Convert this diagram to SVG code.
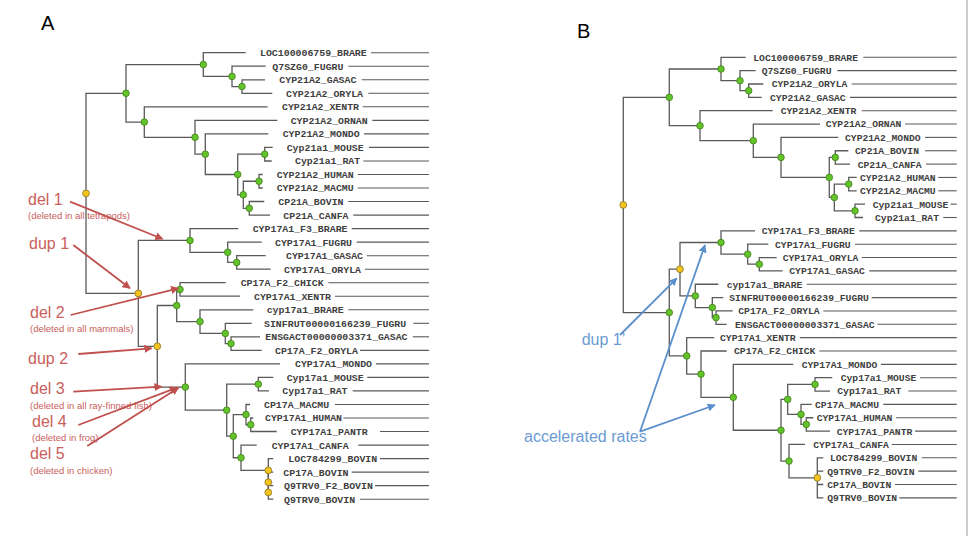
<svg xmlns="http://www.w3.org/2000/svg" width="971" height="536" viewBox="0 0 971 536">
<defs>
<style>
.br{fill:none;stroke:#5a5a5a;stroke-width:1.3}
.tl{stroke:#5a5a5a;stroke-width:1.1}
.la{font-family:"Liberation Mono","Courier New",monospace;font-size:9.9px;font-weight:bold;fill:#404040}
.lb{font-family:"Liberation Mono","Courier New",monospace;font-size:9.7px;font-weight:bold;fill:#404040}
.g{fill:#63c32a;stroke:#3e7d16;stroke-width:0.8}
.y{fill:#f3c31e;stroke:#8c7420;stroke-width:0.8}
.big{font-family:"Liberation Sans",Arial,sans-serif;font-size:20px;fill:#000}
.rt{font-family:"Liberation Sans",Arial,sans-serif;fill:#c9605c}
.bt{font-family:"Liberation Sans",Arial,sans-serif;fill:#6b9bd2}
.ra{stroke:#c0504d;stroke-width:1.8;fill:none;marker-end:url(#ar)}
.ba{stroke:#5b8fcc;stroke-width:1.8;fill:none;marker-end:url(#ab)}
</style>
<marker id="ar" viewBox="0 0 10 10" refX="9" refY="5" markerWidth="4.5" markerHeight="4.5" orient="auto"><path d="M0 0L10 5L0 10z" fill="#c0504d"/></marker>
<marker id="ab" viewBox="0 0 10 10" refX="9" refY="5" markerWidth="4.5" markerHeight="4.5" orient="auto"><path d="M0 0L10 5L0 10z" fill="#5b8fcc"/></marker>
</defs>
<rect width="971" height="536" fill="#fff"/>
<line x1="967" y1="0" x2="967" y2="536" stroke="#9a9a9a" stroke-width="1"/>
<text class="big" x="41" y="30">A</text>
<text class="big" x="577" y="38">B</text>

<g id="connectors-A">
<path class="br" d="M265 79.8H242V93.3H272.3"/>
<path class="br" d="M265.7 66.2H232V86.55H242"/>
<path class="br" d="M245.7 52.7H203.3V76.4H232"/>
<path class="br" d="M272.7 147.4H264.7V161H271.7"/>
<path class="br" d="M262.7 174.5H259V188H262.7"/>
<path class="br" d="M264.3 201.5H249.3V215.1H270"/>
<path class="br" d="M259 181.25H243.3V208.3H249.3"/>
<path class="br" d="M264.7 154.2H237.7V194.8H243.3"/>
<path class="br" d="M268.3 133.9H205.3V174.5H237.7"/>
<path class="br" d="M277.3 120.4H195V154.2H205.3"/>
<path class="br" d="M267.7 106.8H144.3V137.3H195"/>
<path class="br" d="M203.3 64.55H126V122.05H144.3"/>
<path class="br" d="M265.7 255.7H236.7V269.2H270.7"/>
<path class="br" d="M261.7 242.1H227.7V262.45H236.7"/>
<path class="br" d="M238.3 228.6H190V252.3H227.7"/>
<path class="br" d="M225.7 282.7H180V296.2H240"/>
<path class="br" d="M260 336.8H231V350.4H261.7"/>
<path class="br" d="M251.7 323.3H225.3V343.6H231"/>
<path class="br" d="M253.3 309.8H200V333.45H225.3"/>
<path class="br" d="M180 289.45H176.7V321.6H200"/>
<path class="br" d="M273.3 377.4H258.3V390.9H269"/>
<path class="br" d="M253.3 418H250.7V431.5H276.7"/>
<path class="br" d="M250 404.5H246V424.75H250.7"/>
<path class="br" d="M273.3 485.6H268.3V499.2H273.3"/>
<path class="br" d="M273.3 472.1H268.3V492.4"/>
<path class="br" d="M273.3 458.6H268.3V482.25"/>
<path class="br" d="M256.7 445.1H241V470.4H268.3"/>
<path class="br" d="M246 414.6H233.3V457.75H241"/>
<path class="br" d="M258.3 384.15H226.7V436.2H233.3"/>
<path class="br" d="M280 363.9H185.3V410.2H226.7"/>
<path class="br" d="M176.7 305.5H157.3V387.05H185.3"/>
<path class="br" d="M190 240.45H138.3V346.3H157.3"/>
<path class="br" d="M126 93.3H86V293.4H138.3"/>
</g>

<g id="connectors-B">
<path class="br" d="M763.3 84H748.7V97.35H761.7"/>
<path class="br" d="M755.7 70.65H740V90.7H748.7"/>
<path class="br" d="M745.7 57.3H721V80.7H740"/>
<path class="br" d="M848.3 150.75H835.3V164.1H850"/>
<path class="br" d="M856.7 177.45H848.7V190.8H856.7"/>
<path class="br" d="M865 204.15H855V217.5H863"/>
<path class="br" d="M848.7 184.1H834.3V210.8H855"/>
<path class="br" d="M835.3 157.4H829.3V197.45H834.3"/>
<path class="br" d="M838.3 137.4H781V177.4H829.3"/>
<path class="br" d="M820 124.05H753.3V157.4H781"/>
<path class="br" d="M772.7 110.7H700V140.7H753.3"/>
<path class="br" d="M721 69H669.3V125.7H700"/>
<path class="br" d="M776.7 257.55H759.3V270.9H782.7"/>
<path class="br" d="M768.3 244.2H747.7V264.2H759.3"/>
<path class="br" d="M755 230.85H721V254.2H747.7"/>
<path class="br" d="M732.7 310.95H716V324.3H726.7"/>
<path class="br" d="M723.3 297.6H712.3V317.6H716"/>
<path class="br" d="M718.3 284.25H695.3V307.6H712.3"/>
<path class="br" d="M721 242.5H680V295.9H695.3"/>
<path class="br" d="M832.3 377.7H815V391.05H830"/>
<path class="br" d="M813.3 417.75H806.3V431.1H830"/>
<path class="br" d="M811.7 404.4H801V424.4H806.3"/>
<path class="br" d="M815 384.4H787.7V414.4H801"/>
<path class="br" d="M823.3 457.8H817.3V497.85H823.3M817.3 471.15H823.3M817.3 484.5H823.3"/>
<path class="br" d="M805 444.45H789V477.8H817.3"/>
<path class="br" d="M787.7 399.4H781V461.1H789"/>
<path class="br" d="M793.3 364.35H733.3V430.25H781"/>
<path class="br" d="M726.7 351H701V397.3H733.3"/>
<path class="br" d="M714.3 337.65H686.7V374.15H701"/>
<path class="br" d="M680 269.2H669.3V355.9H686.7"/>
<path class="br" d="M669.3 97.35H623.3V312.55H669.3"/>
</g>

<g id="nodes-A">
<circle id="a-root" class="y" cx="86" cy="193.35" r="3.4"/>
<circle id="a-n126" class="g" cx="126" cy="93.3" r="3.3"/>
<circle id="a-n203" class="g" cx="203.3" cy="64.55" r="3.3"/>
<circle id="a-n232" class="g" cx="232" cy="76.4" r="3.3"/>
<circle id="a-n242" class="g" cx="242" cy="86.55" r="3.3"/>
<circle id="a-n144" class="g" cx="144.3" cy="122.05" r="3.3"/>
<circle id="a-n195" class="g" cx="195" cy="137.3" r="3.3"/>
<circle id="a-n205" class="g" cx="205.3" cy="154.2" r="3.3"/>
<circle id="a-n237" class="g" cx="237.7" cy="174.5" r="3.3"/>
<circle id="a-n264" class="g" cx="264.7" cy="154.2" r="3.3"/>
<circle id="a-n243" class="g" cx="243.3" cy="194.8" r="3.3"/>
<circle id="a-n259" class="g" cx="259" cy="181.25" r="3.3"/>
<circle id="a-n249" class="g" cx="249.3" cy="208.3" r="3.3"/>
<circle id="a-dup1" class="y" cx="138.3" cy="293.4" r="3.4"/>
<circle id="a-n190" class="g" cx="190" cy="240.45" r="3.3"/>
<circle id="a-n227" class="g" cx="227.7" cy="252.3" r="3.3"/>
<circle id="a-n236" class="g" cx="236.7" cy="262.45" r="3.3"/>
<circle id="a-dup2" class="y" cx="157.3" cy="346.3" r="3.4"/>
<circle id="a-n176" class="g" cx="176.7" cy="305.5" r="3.3"/>
<circle id="a-n180" class="g" cx="180" cy="289.45" r="3.3"/>
<circle id="a-n200" class="g" cx="200" cy="321.6" r="3.3"/>
<circle id="a-n225" class="g" cx="225.3" cy="333.45" r="3.3"/>
<circle id="a-n231" class="g" cx="231" cy="343.6" r="3.3"/>
<circle id="a-n185" class="g" cx="185.3" cy="387.05" r="3.3"/>
<circle id="a-n226" class="g" cx="226.7" cy="410.2" r="3.3"/>
<circle id="a-n258" class="g" cx="258.3" cy="384.15" r="3.3"/>
<circle id="a-n233" class="g" cx="233.3" cy="436.2" r="3.3"/>
<circle id="a-n246" class="g" cx="246" cy="414.6" r="3.3"/>
<circle id="a-n250" class="g" cx="250.7" cy="424.75" r="3.3"/>
<circle id="a-n241" class="g" cx="241" cy="457.75" r="3.3"/>
<circle id="a-bovA" class="y" cx="268.3" cy="470.4" r="3.4"/>
<circle id="a-bovB" class="y" cx="268.3" cy="482.25" r="3.4"/>
<circle id="a-bovC" class="y" cx="268.3" cy="492.4" r="3.4"/>
</g>

<g id="nodes-B">
<circle id="b-root" class="y" cx="623.3" cy="204.95" r="3.4"/>
<circle id="b-n669" class="g" cx="669.3" cy="97.35" r="3.3"/>
<circle id="b-n721" class="g" cx="721" cy="69" r="3.3"/>
<circle id="b-n740" class="g" cx="740" cy="80.7" r="3.3"/>
<circle id="b-n748" class="g" cx="748.7" cy="90.7" r="3.3"/>
<circle id="b-n700" class="g" cx="700" cy="125.7" r="3.3"/>
<circle id="b-n753" class="g" cx="753.3" cy="140.7" r="3.3"/>
<circle id="b-n781" class="g" cx="781" cy="157.4" r="3.3"/>
<circle id="b-n829" class="g" cx="829.3" cy="177.4" r="3.3"/>
<circle id="b-n835" class="g" cx="835.3" cy="157.4" r="3.3"/>
<circle id="b-n834" class="g" cx="834.3" cy="197.45" r="3.3"/>
<circle id="b-n848" class="g" cx="848.7" cy="184.1" r="3.3"/>
<circle id="b-n855" class="g" cx="855" cy="210.8" r="3.3"/>
<circle id="b-n669b" class="g" cx="669.3" cy="312.55" r="3.3"/>
<circle id="b-dup1p" class="y" cx="680" cy="269.2" r="3.4"/>
<circle id="b-n721b" class="g" cx="721" cy="242.5" r="3.3"/>
<circle id="b-n747" class="g" cx="747.7" cy="254.2" r="3.3"/>
<circle id="b-n759" class="g" cx="759.3" cy="264.2" r="3.3"/>
<circle id="b-n695" class="g" cx="695.3" cy="295.9" r="3.3"/>
<circle id="b-n712" class="g" cx="712.3" cy="307.6" r="3.3"/>
<circle id="b-n716" class="g" cx="716" cy="317.6" r="3.3"/>
<circle id="b-n686" class="g" cx="686.7" cy="355.9" r="3.3"/>
<circle id="b-n701" class="g" cx="701" cy="374.15" r="3.3"/>
<circle id="b-n733" class="g" cx="733.3" cy="397.3" r="3.3"/>
<circle id="b-n781b" class="g" cx="781" cy="430.25" r="3.3"/>
<circle id="b-n787" class="g" cx="787.7" cy="399.4" r="3.3"/>
<circle id="b-n815" class="g" cx="815" cy="384.4" r="3.3"/>
<circle id="b-n801" class="g" cx="801" cy="414.4" r="3.3"/>
<circle id="b-n806" class="g" cx="806.3" cy="424.4" r="3.3"/>
<circle id="b-n789" class="g" cx="789" cy="461.1" r="3.3"/>
<circle id="b-bov" class="y" cx="817.3" cy="477.8" r="3.4"/>
</g>

<g id="leaves-A">
<g id="a1"><text class="la" x="260" y="56.1">LOC100006759_BRARE</text><line class="tl" x1="371" y1="52.7" x2="429" y2="52.7"/></g>
<g id="a2"><text class="la" x="272.3" y="69.6">Q7SZG0_FUGRU</text><line class="tl" x1="348.3" y1="66.2" x2="429" y2="66.2"/></g>
<g id="a3"><text class="la" x="279.3" y="83.2">CYP21A2_GASAC</text><line class="tl" x1="361.7" y1="79.8" x2="429" y2="79.8"/></g>
<g id="a4"><text class="la" x="286" y="96.7">CYP21A2_ORYLA</text><line class="tl" x1="368.3" y1="93.3" x2="429" y2="93.3"/></g>
<g id="a5"><text class="la" x="282" y="110.2">CYP21A2_XENTR</text><line class="tl" x1="362.7" y1="106.8" x2="429" y2="106.8"/></g>
<g id="a6"><text class="la" x="290.7" y="123.8">CYP21A2_ORNAN</text><line class="tl" x1="372.3" y1="120.4" x2="429" y2="120.4"/></g>
<g id="a7"><text class="la" x="282.7" y="137.3">CYP21A2_MONDO</text><line class="tl" x1="364" y1="133.9" x2="429" y2="133.9"/></g>
<g id="a8"><text class="la" x="286.7" y="150.8">Cyp21a1_MOUSE</text><line class="tl" x1="369" y1="147.4" x2="429" y2="147.4"/></g>
<g id="a9"><text class="la" x="295" y="164.4">Cyp21a1_RAT</text><line class="tl" x1="363.3" y1="161" x2="429" y2="161"/></g>
<g id="a10"><text class="la" x="276.7" y="177.9">CYP21A2_HUMAN</text><line class="tl" x1="357.7" y1="174.5" x2="429" y2="174.5"/></g>
<g id="a11"><text class="la" x="276.7" y="191.4">CYP21A2_MACMU</text><line class="tl" x1="357.7" y1="188" x2="429" y2="188"/></g>
<g id="a12"><text class="la" x="278.3" y="204.9">CP21A_BOVIN</text><line class="tl" x1="348.3" y1="201.5" x2="429" y2="201.5"/></g>
<g id="a13"><text class="la" x="283.3" y="218.5">CP21A_CANFA</text><line class="tl" x1="353.3" y1="215.1" x2="429" y2="215.1"/></g>
<g id="a14"><text class="la" x="252.7" y="232">CYP17A1_F3_BRARE</text><line class="tl" x1="351.7" y1="228.6" x2="429" y2="228.6"/></g>
<g id="a15"><text class="la" x="275" y="245.5">CYP17A1_FUGRU</text><line class="tl" x1="356.7" y1="242.1" x2="429" y2="242.1"/></g>
<g id="a16"><text class="la" x="286" y="259.1">CYP17A1_GASAC</text><line class="tl" x1="366.7" y1="255.7" x2="429" y2="255.7"/></g>
<g id="a17"><text class="la" x="284" y="272.6">CYP17A1_ORYLA</text><line class="tl" x1="365" y1="269.2" x2="429" y2="269.2"/></g>
<g id="a18"><text class="la" x="240.7" y="286.1">CP17A_F2_CHICK</text><line class="tl" x1="328.3" y1="282.7" x2="429" y2="282.7"/></g>
<g id="a19"><text class="la" x="254" y="299.6">CYP17A1_XENTR</text><line class="tl" x1="335" y1="296.2" x2="429" y2="296.2"/></g>
<g id="a20"><text class="la" x="266.7" y="313.2">cyp17a1_BRARE</text><line class="tl" x1="348.3" y1="309.8" x2="429" y2="309.8"/></g>
<g id="a21"><text class="la" x="264" y="326.7">SINFRUT00000166239_FUGRU</text><line class="tl" x1="413.3" y1="323.3" x2="429" y2="323.3"/></g>
<g id="a22"><text class="la" x="265.3" y="340.2">ENSGACT00000003371_GASAC</text><line class="tl" x1="412.7" y1="336.8" x2="429" y2="336.8"/></g>
<g id="a23"><text class="la" x="275" y="353.8">CP17A_F2_ORYLA</text><line class="tl" x1="360" y1="350.4" x2="429" y2="350.4"/></g>
<g id="a24"><text class="la" x="295" y="367.3">CYP17A1_MONDO</text><line class="tl" x1="376" y1="363.9" x2="429" y2="363.9"/></g>
<g id="a25"><text class="la" x="286.7" y="380.8">Cyp17a1_MOUSE</text><line class="tl" x1="367.3" y1="377.4" x2="429" y2="377.4"/></g>
<g id="a26"><text class="la" x="282.3" y="394.3">Cyp17a1_RAT</text><line class="tl" x1="352.7" y1="390.9" x2="429" y2="390.9"/></g>
<g id="a27"><text class="la" x="264" y="407.9">CP17A_MACMU</text><line class="tl" x1="335" y1="404.5" x2="429" y2="404.5"/></g>
<g id="a28"><text class="la" x="265" y="421.4">CYP17A1_HUMAN</text><line class="tl" x1="343.3" y1="418" x2="429" y2="418"/></g>
<g id="a29"><text class="la" x="290.7" y="434.9">CYP17A1_PANTR</text><line class="tl" x1="380" y1="431.5" x2="429" y2="431.5"/></g>
<g id="a30"><text class="la" x="271.7" y="448.5">CYP17A1_CANFA</text><line class="tl" x1="358.3" y1="445.1" x2="429" y2="445.1"/></g>
<g id="a31"><text class="la" x="288.3" y="462">LOC784299_BOVIN</text><line class="tl" x1="380" y1="458.6" x2="429" y2="458.6"/></g>
<g id="a32"><text class="la" x="283.3" y="475.5">CP17A_BOVIN</text><line class="tl" x1="351.7" y1="472.1" x2="429" y2="472.1"/></g>
<g id="a33"><text class="la" x="284" y="489">Q9TRV0_F2_BOVIN</text><line class="tl" x1="375" y1="485.6" x2="429" y2="485.6"/></g>
<g id="a34"><text class="la" x="284" y="502.6">Q9TRV0_BOVIN</text><line class="tl" x1="360" y1="499.2" x2="429" y2="499.2"/></g>
</g>

<g id="leaves-B">
<g id="b1"><text class="lb" x="753.3" y="60.7">LOC100006759_BRARE</text><line class="tl" x1="863.3" y1="57.3" x2="956.7" y2="57.3"/></g>
<g id="b2"><text class="lb" x="761.7" y="74.05">Q7SZG0_FUGRU</text><line class="tl" x1="837.3" y1="70.65" x2="956.7" y2="70.65"/></g>
<g id="b3"><text class="lb" x="771.7" y="87.4">CYP21A2_ORYLA</text><line class="tl" x1="851.7" y1="84" x2="956.7" y2="84"/></g>
<g id="b4"><text class="lb" x="770" y="100.75">CYP21A2_GASAC</text><line class="tl" x1="850" y1="97.35" x2="956.7" y2="97.35"/></g>
<g id="b5"><text class="lb" x="780.7" y="114.1">CYP21A2_XENTR</text><line class="tl" x1="861.7" y1="110.7" x2="956.7" y2="110.7"/></g>
<g id="b6"><text class="lb" x="825.7" y="127.45">CYP21A2_ORNAN</text><line class="tl" x1="905" y1="124.05" x2="956.7" y2="124.05"/></g>
<g id="b7"><text class="lb" x="845" y="140.8">CYP21A2_MONDO</text><line class="tl" x1="925" y1="137.4" x2="956.7" y2="137.4"/></g>
<g id="b8"><text class="lb" x="855" y="154.15">CP21A_BOVIN</text><line class="tl" x1="925" y1="150.75" x2="956.7" y2="150.75"/></g>
<g id="b9"><text class="lb" x="857.7" y="167.5">CP21A_CANFA</text><line class="tl" x1="926" y1="164.1" x2="956.7" y2="164.1"/></g>
<g id="b10"><text class="lb" x="860" y="180.85">CYP21A2_HUMAN</text><line class="tl" x1="938.3" y1="177.45" x2="956.7" y2="177.45"/></g>
<g id="b11"><text class="lb" x="860" y="194.2">CYP21A2_MACMU</text><line class="tl" x1="938.3" y1="190.8" x2="956.7" y2="190.8"/></g>
<g id="b12"><text class="lb" x="872.7" y="207.55">Cyp21a1_MOUSE</text><line class="tl" x1="950.7" y1="204.15" x2="956.7" y2="204.15"/></g>
<g id="b13"><text class="lb" x="875" y="220.9">Cyp21a1_RAT</text><line class="tl" x1="943.3" y1="217.5" x2="956.7" y2="217.5"/></g>
<g id="b14"><text class="lb" x="761.7" y="234.25">CYP17A1_F3_BRARE</text><line class="tl" x1="859.3" y1="230.85" x2="956.7" y2="230.85"/></g>
<g id="b15"><text class="lb" x="775" y="247.6">CYP17A1_FUGRU</text><line class="tl" x1="855" y1="244.2" x2="956.7" y2="244.2"/></g>
<g id="b16"><text class="lb" x="782.7" y="260.95">CYP17A1_ORYLA</text><line class="tl" x1="861.7" y1="257.55" x2="956.7" y2="257.55"/></g>
<g id="b17"><text class="lb" x="789.3" y="274.3">CYP17A1_GASAC</text><line class="tl" x1="869.3" y1="270.9" x2="956.7" y2="270.9"/></g>
<g id="b18"><text class="lb" x="726.7" y="287.65">cyp17a1_BRARE</text><line class="tl" x1="806.7" y1="284.25" x2="956.7" y2="284.25"/></g>
<g id="b19"><text class="lb" x="729.3" y="301">SINFRUT00000166239_FUGRU</text><line class="tl" x1="871.7" y1="297.6" x2="956.7" y2="297.6"/></g>
<g id="b20"><text class="lb" x="738.3" y="314.35">CP17A_F2_ORYLA</text><line class="tl" x1="823.3" y1="310.95" x2="956.7" y2="310.95"/></g>
<g id="b21"><text class="lb" x="735" y="327.7">ENSGACT00000003371_GASAC</text><line class="tl" x1="877.3" y1="324.3" x2="956.7" y2="324.3"/></g>
<g id="b22"><text class="lb" x="720" y="341.05">CYP17A1_XENTR</text><line class="tl" x1="800" y1="337.65" x2="956.7" y2="337.65"/></g>
<g id="b23"><text class="lb" x="734" y="354.4">CP17A_F2_CHICK</text><line class="tl" x1="819.3" y1="351" x2="956.7" y2="351"/></g>
<g id="b24"><text class="lb" x="801.7" y="367.75">CYP17A1_MONDO</text><line class="tl" x1="881" y1="364.35" x2="956.7" y2="364.35"/></g>
<g id="b25"><text class="lb" x="840.7" y="381.1">Cyp17a1_MOUSE</text><line class="tl" x1="920" y1="377.7" x2="956.7" y2="377.7"/></g>
<g id="b26"><text class="lb" x="837.3" y="394.45">Cyp17a1_RAT</text><line class="tl" x1="908.3" y1="391.05" x2="956.7" y2="391.05"/></g>
<g id="b27"><text class="lb" x="815" y="407.8">CP17A_MACMU</text><line class="tl" x1="883.3" y1="404.4" x2="956.7" y2="404.4"/></g>
<g id="b28"><text class="lb" x="816.7" y="421.15">CYP17A1_HUMAN</text><line class="tl" x1="896" y1="417.75" x2="956.7" y2="417.75"/></g>
<g id="b29"><text class="lb" x="836.7" y="434.5">CYP17A1_PANTR</text><line class="tl" x1="915" y1="431.1" x2="956.7" y2="431.1"/></g>
<g id="b30"><text class="lb" x="813.3" y="447.85">CYP17A1_CANFA</text><line class="tl" x1="891.7" y1="444.45" x2="956.7" y2="444.45"/></g>
<g id="b31"><text class="lb" x="830" y="461.2">LOC784299_BOVIN</text><line class="tl" x1="921.7" y1="457.8" x2="956.7" y2="457.8"/></g>
<g id="b32"><text class="lb" x="827.3" y="474.55">Q9TRV0_F2_BOVIN</text><line class="tl" x1="918.3" y1="471.15" x2="956.7" y2="471.15"/></g>
<g id="b33"><text class="lb" x="827.3" y="487.9">CP17A_BOVIN</text><line class="tl" x1="895" y1="484.5" x2="956.7" y2="484.5"/></g>
<g id="b34"><text class="lb" x="827.3" y="501.25">Q9TRV0_BOVIN</text><line class="tl" x1="899.3" y1="497.85" x2="956.7" y2="497.85"/></g>
</g>

<g id="annotations-A">
<text class="rt" x="28" y="205" font-size="16">del 1</text>
<text class="rt" x="28" y="218.5" font-size="9.5">(deleted in all tetrapods)</text>
<text class="rt" x="29" y="248.5" font-size="16">dup 1</text>
<text class="rt" x="30" y="317.5" font-size="16">del 2</text>
<text class="rt" x="30" y="331.5" font-size="9.5">(deleted in all mammals)</text>
<text class="rt" x="28" y="363.5" font-size="16">dup 2</text>
<text class="rt" x="30" y="393.5" font-size="16">del 3</text>
<text class="rt" x="30" y="408.5" font-size="9.5">(deleted in all ray-finned fish)</text>
<text class="rt" x="32" y="426.7" font-size="16">del 4</text>
<text class="rt" x="32" y="440.5" font-size="9.5">(deleted in frog)</text>
<text class="rt" x="30" y="459.3" font-size="16">del 5</text>
<text class="rt" x="30" y="473.5" font-size="9.5">(deleted in chicken)</text>
</g>
<g id="arrows-A">
<line class="ra" x1="70" y1="201.7" x2="162.7" y2="239"/>
<line class="ra" x1="73.3" y1="245" x2="130" y2="288.3"/>
<line class="ra" x1="70.7" y1="315" x2="178.3" y2="288.3"/>
<line class="ra" x1="78.3" y1="354" x2="151.7" y2="348.3"/>
<line class="ra" x1="73.3" y1="391.7" x2="161.7" y2="386.7"/>
<line class="ra" x1="78.3" y1="425" x2="177" y2="387.7"/>
<line class="ra" x1="87.3" y1="446" x2="178.5" y2="387.7"/>
</g>

<g id="annotations-B">
<text class="bt" x="581.7" y="345" font-size="16">dup 1’</text>
<text class="bt" x="524" y="441.5" font-size="16">accelerated rates</text>
<line class="ba" x1="620" y1="335" x2="676.7" y2="278.3"/>
<line class="ba" x1="640" y1="431.7" x2="705" y2="245"/>
<line class="ba" x1="640" y1="431.7" x2="715" y2="405"/>
</g>
</svg>
